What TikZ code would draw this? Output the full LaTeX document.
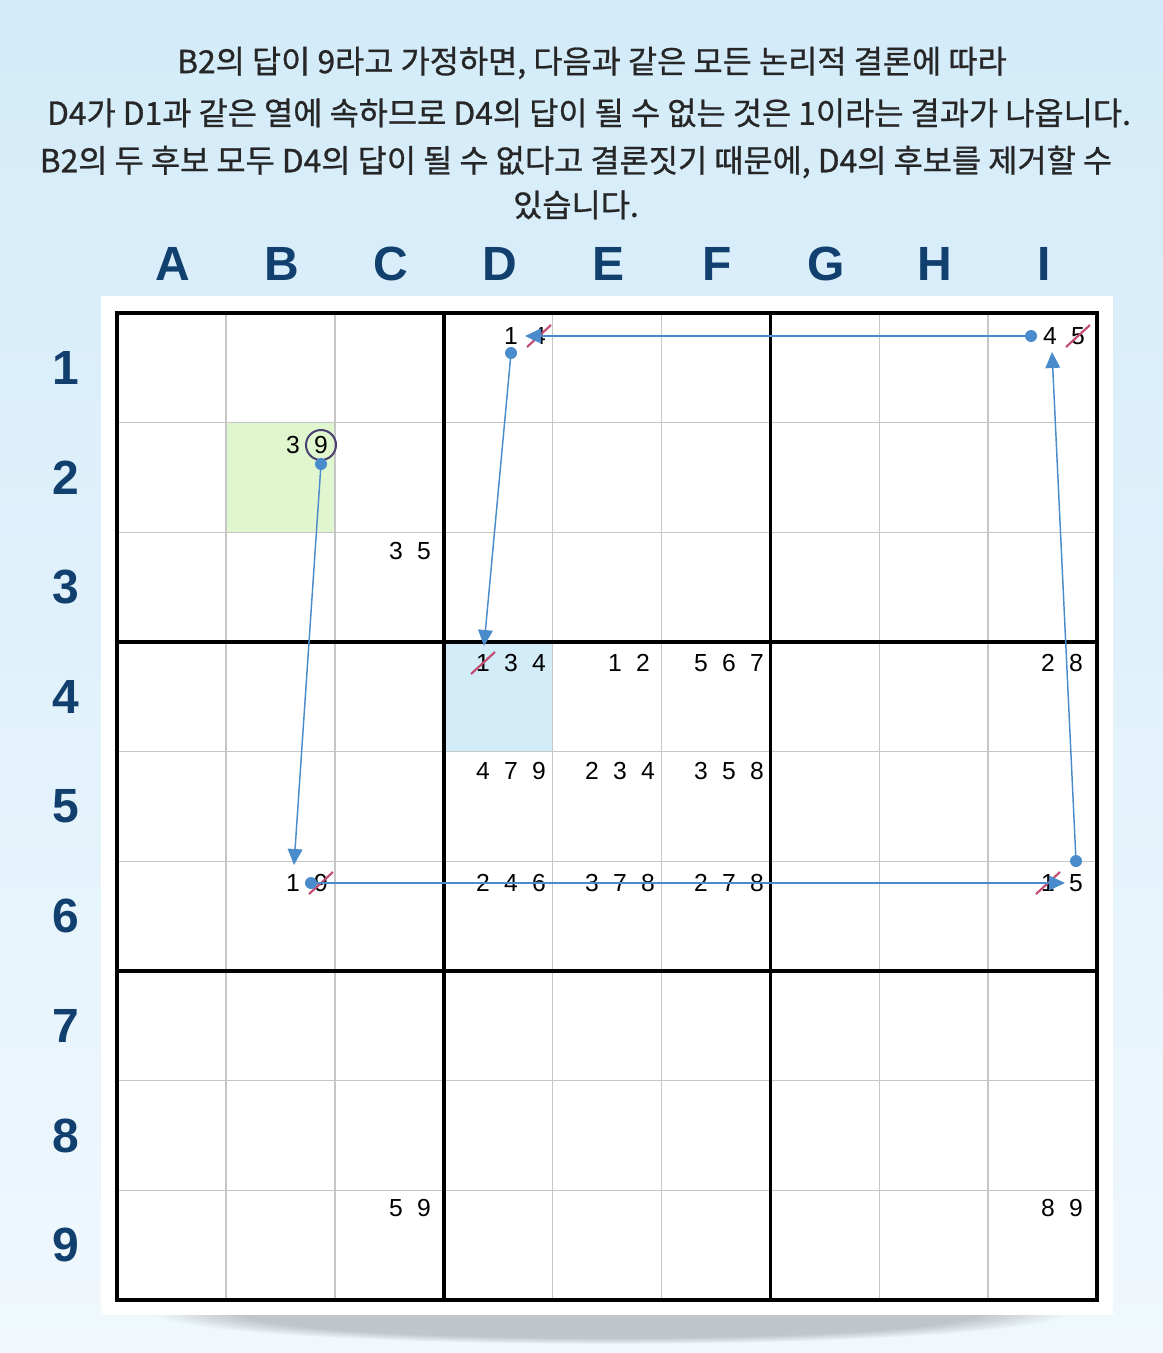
\documentclass[tikz,border=0pt]{standalone}
\usepackage{fontspec}
\setmainfont{Liberation Sans}
\newfontfamily\krfont[FakeBold=0.8]{Noto Sans CJK KR}
\usetikzlibrary{arrows.meta,positioning,fadings,calc}

\definecolor{bgtop}{HTML}{D3EBF9}
\definecolor{bgbot}{HTML}{F0F8FD}
\definecolor{navy}{HTML}{11406E}
\definecolor{linkblue}{HTML}{4A8CCB}
\definecolor{strikered}{HTML}{C24D72}
\definecolor{ringpurple}{HTML}{4B3F6E}
\definecolor{gridgray}{HTML}{C6C6C6}
\definecolor{cellgreen}{HTML}{E0F6CF}
\definecolor{cellblue}{HTML}{D2ECF8}

\tikzset{
  headline/.style={font=\krfont\fontsize{23.8}{28}\selectfont, text=black!85, inner sep=0pt},
  axislabel/.style={font=\bfseries\fontsize{36}{40}\selectfont, text=navy},
  cand/.style={font=\fontsize{18.5}{20}\selectfont, inner sep=0pt},
  thinrule/.style={gridgray, line width=1.1pt},
  thickrule/.style={black, line width=2.8pt},
  link/.style={linkblue, line width=1.1pt, -{Triangle[length=12pt,width=11pt]}},
  linkdot/.style={circle, fill=linkblue, minimum size=9pt, inner sep=0pt},
  strike/.style={strikered, line width=1.6pt},
  ring/.style={circle, draw=ringpurple, line width=1.5pt, minimum size=22.5pt, inner sep=0pt}
}

\begin{document}
\begin{tikzpicture}[x=0.75pt, y=-0.75pt]
  % backdrop and panel
  \shade[top color=bgtop, bottom color=bgbot] (0,0) rectangle (1163,1353);
  \useasboundingbox (0,0) rectangle (1163,1353);
  \fill[black, opacity=.2, path fading=circle with fuzzy edge 20 percent]
    (610,1312) ellipse [x radius=460, y radius=32];
  \fill[white] (101,296) rectangle (1113,1315);

  % explanation
  \node[headline] (line1) at (592,63) {B2의 답이 9라고 가정하면, 다음과 같은 모든 논리적 결론에 따라};
  \node[headline] (line2) at (589,113) {D4가 D1과 같은 열에 속하므로 D4의 답이 될 수 없는 것은 1이라는 결과가 나옵니다.};
  \node[headline] (line3) at (576,162) {B2의 두 후보 모두 D4의 답이 될 수 없다고 결론짓기 때문에, D4의 후보를 제거할 수};
  \node[headline] (line4) at (576,205) {있습니다.};

  % column letters and row numbers
  \foreach \l [count=\i from 0] in {A,B,C,D,E,F,G,H,I}
    \node[axislabel] (col\l) at ({173+108.9*\i},264) {\l};
  \foreach \r in {1,...,9}
    \node[axislabel] (row\r) at (66,{313+109.67*(\r-0.5)}) {\r};

  % highlighted cells
  \fill[cellgreen] (225.9,422.7) rectangle (334.8,532.3);
  \fill[cellblue] (443.7,642) rectangle (552.6,751.7);

  % grid
  \foreach \i in {1,2,4,5,7,8} {
    \draw[thinrule] ({117+108.9*\i},313) -- ({117+108.9*\i},1300);
    \draw[thinrule] (117,{313+109.67*\i}) -- (1097,{313+109.67*\i});
  }
  \foreach \i in {3,6} {
    \draw[thickrule] ({117+108.9*\i},313) -- ({117+108.9*\i},1300);
    \draw[thickrule] (117,{313+109.67*\i}) -- (1097,{313+109.67*\i});
  }
  \draw[thickrule] (117,313) rectangle (1097,1300);

  % candidates
  \foreach \cell/\x/\y/\ds in {B2/293/445/{3,9}, C3/396/551/{3,5}, D1/511/336/{1,4},
      I1/1050/336/{4,5}, D4/483/663/{1,3,4}, E4/615/663/{1,2}, F4/701/663/{5,6,7},
      I4/1048/663/{2,8}, D5/483/771/{4,7,9}, E5/592/771/{2,3,4}, F5/701/771/{3,5,8},
      B6/293/883/{1,9}, D6/483/883/{2,4,6}, E6/592/883/{3,7,8}, F6/701/883/{2,7,8},
      I6/1048/883/{1,5}, C9/396/1208/{5,9}, I9/1048/1208/{8,9}}
    \foreach \d [count=\k from 0] in \ds
      \node[cand] (\cell-\d) at ({\x+28*\k},\y) {\d};

  \node[ring] (ringB2) at (B2-9) {};
  \foreach \n in {D1-4, I1-5, D4-1, B6-9, I6-1}
    \draw[strike] ($(\n)+(-12,11)$) -- ($(\n)+(12,-11)$);

  % chain of links
  \node[linkdot] (dotB2) at ($(B2-9)+(0,19)$) {};
  \node[linkdot] (dotB6) at ($(B6-9)+(-10,0)$) {};
  \node[linkdot] (dotI6) at ($(I6-5)+(0,-22)$) {};
  \node[linkdot] (dotI1) at ($(I1-4)+(-19,0)$) {};
  \node[linkdot] (dotD1) at ($(D1-1)+(0,17)$) {};
  \coordinate (tipB6) at ($(B6-1)+(1,-18)$);
  \coordinate (tipI6) at ($(I6-1)+(17,0)$);
  \coordinate (tipI1) at ($(I1-4)+(2,16)$);
  \coordinate (tipD1) at ($(D1-4)+(-14,0)$);
  \coordinate (tipD4) at ($(D4-1)+(1,-17)$);

  \draw[link] (dotB2.center) -- (tipB6);
  \draw[link] (dotB6.center) -- (tipI6);
  \draw[link] (dotI6.center) -- (tipI1);
  \draw[link] (dotI1.center) -- (tipD1);
  \draw[link] (dotD1.center) -- (tipD4);
\end{tikzpicture}
\end{document}
